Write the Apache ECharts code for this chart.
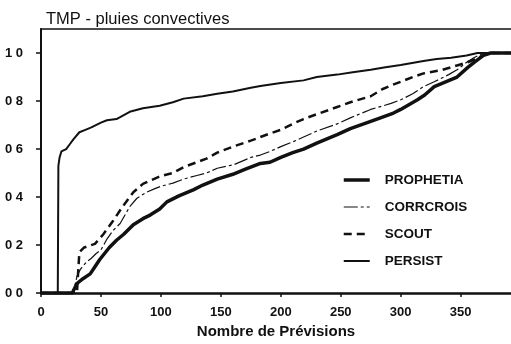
<!DOCTYPE html>
<html>
<head>
<meta charset="utf-8">
<script src="https://cdn.jsdelivr.net/npm/echarts@6/dist/echarts.min.js"></script>
<style>
  html, body { margin: 0; padding: 0; background: #fff; }
  #chart { width: 511px; height: 344px; }
</style>
</head>
<body>
<div id="chart"></div>
<script>
// Cumulative share of forecasts (y) against number of forecasts (x), one curve per method
const PROPHETIA = [[0,0],[26,0],[27,0.01],[30,0.04],[35,0.06],[41,0.08],[45,0.11],[49,0.14],[53,0.165],[57,0.19],[63,0.22],[69,0.245],[77,0.285],[85,0.31],[91,0.325],[99,0.35],[105,0.38],[115,0.405],[127,0.43],[135,0.45],[147,0.475],[160,0.495],[170,0.515],[183,0.54],[191,0.545],[200,0.565],[210,0.585],[219,0.60],[230,0.625],[247,0.66],[258,0.685],[275,0.715],[286,0.735],[294,0.75],[300,0.765],[314,0.805],[320,0.825],[328,0.86],[340,0.885],[347,0.90],[356,0.94],[361,0.96],[369,0.99],[375,1.0],[392,1.0]];
const CORRCROIS = [[0,0],[27,0],[28,0.025],[30,0.07],[33,0.10],[38,0.13],[42,0.145],[46,0.165],[50,0.18],[55,0.225],[60,0.26],[66,0.29],[74,0.36],[80,0.395],[88,0.42],[95,0.435],[100,0.445],[110,0.458],[119,0.475],[130,0.49],[138,0.50],[147,0.52],[161,0.535],[175,0.565],[183,0.575],[191,0.59],[200,0.61],[210,0.63],[219,0.65],[230,0.675],[247,0.705],[258,0.73],[275,0.765],[292,0.79],[300,0.805],[310,0.83],[319,0.86],[328,0.88],[340,0.91],[347,0.93],[356,0.965],[361,0.98],[369,1.0],[392,1.0]];
const SCOUT = [[0,0],[30,0],[31,0.09],[32,0.17],[36,0.19],[40,0.197],[45,0.205],[52,0.245],[60,0.30],[68,0.36],[77,0.42],[85,0.455],[94,0.475],[100,0.488],[110,0.50],[119,0.525],[130,0.545],[138,0.56],[147,0.585],[160,0.61],[175,0.635],[183,0.65],[191,0.665],[200,0.68],[210,0.705],[219,0.725],[230,0.745],[247,0.775],[258,0.795],[275,0.82],[285,0.85],[292,0.865],[300,0.88],[310,0.90],[319,0.915],[335,0.93],[347,0.948],[355,0.96],[361,0.972],[369,0.99],[375,1.0],[392,1.0]];
const PERSIST = [[0,0],[14,0],[14.5,0.53],[15.5,0.565],[17,0.59],[21,0.60],[24,0.62],[27,0.64],[32,0.67],[37,0.68],[42,0.69],[50,0.71],[55,0.72],[63,0.725],[74,0.755],[85,0.77],[99,0.78],[110,0.795],[119,0.81],[135,0.82],[147,0.83],[160,0.84],[175,0.855],[183,0.863],[200,0.875],[219,0.886],[230,0.90],[247,0.91],[260,0.92],[275,0.93],[286,0.94],[300,0.95],[319,0.967],[330,0.975],[342,0.98],[355,0.99],[364,1.0],[392,1.0]];

const xTicks = [0, 50, 100, 150, 200, 250, 300, 350];
const yTicks = [0, 0.2, 0.4, 0.6, 0.8, 1.0];
const yTickLabels = ['0 0', '0 2', '0 4', '0 6', '0 8', '1 0'];

const INK = '#111';
const FONT = '"Liberation Sans", Arial, sans-serif';

// stroke style per method: [width, dash]
const STYLES = {
  PROPHETIA: [3.5, 'solid'],
  CORRCROIS: [1.2, [14, 3, 3, 3]],
  SCOUT: [2.5, [8, 5]],
  PERSIST: [2, 'solid']
};

const chart = echarts.init(document.getElementById('chart'), null, { renderer: 'canvas' });

function lineSeries(name, data) {
  return {
    name: name,
    type: 'line',
    data: data,
    symbol: 'none',
    showSymbol: false,
    animation: false,
    lineStyle: { color: INK, width: STYLES[name][0], type: STYLES[name][1], cap: 'butt', join: 'round' },
    itemStyle: { color: INK }
  };
}

const legendItems = ['PROPHETIA', 'CORRCROIS', 'SCOUT', 'PERSIST'].map(function (n) {
  return { name: n, lineStyle: { color: INK, width: STYLES[n][0], type: STYLES[n][1] } };
});

chart.setOption({
  backgroundColor: '#fff',
  animation: false,
  title: {
    text: 'TMP - pluies convectives',
    left: 41,
    top: 6,
    textStyle: { fontFamily: FONT, fontSize: 16.5, fontWeight: 'normal', color: INK }
  },
  grid: { left: 41, top: 29, right: 0, bottom: 48, containLabel: false },
  legend: {
    orient: 'vertical',
    left: 342,
    top: 173,
    padding: 0,
    itemWidth: 26,
    itemHeight: 14,
    itemGap: 13,
    // keep only the line sample in each legend entry
    itemStyle: { opacity: 0, borderWidth: 0 },
    data: legendItems,
    textStyle: { fontFamily: FONT, fontSize: 13.5, fontWeight: 'bold', color: INK, padding: [0, 0, 0, 10] }
  },
  xAxis: [{
    type: 'value',
    min: 0,
    max: 392,
    interval: 50,
    name: 'Nombre de Prévisions',
    nameLocation: 'middle',
    nameGap: 15,
    nameTextStyle: { fontFamily: FONT, fontSize: 15, fontWeight: 'bold', color: INK, verticalAlign: 'top' },
    axisLine: { show: true, lineStyle: { color: INK, width: 2.5 } },
    axisTick: { show: true, length: 4, customValues: xTicks, lineStyle: { color: INK, width: 1.5 } },
    axisLabel: { customValues: xTicks, margin: 13, fontFamily: FONT, fontSize: 13, fontWeight: 'bold', color: INK },
    splitLine: { show: false }
  }, {
    type: 'value',
    position: 'top',
    min: 0,
    max: 392,
    axisLine: { show: true, onZero: false, lineStyle: { color: INK, width: 1.5 } },
    axisTick: { show: false },
    axisLabel: { show: false },
    splitLine: { show: false }
  }],
  yAxis: {
    type: 'value',
    min: 0,
    max: 1.1,
    interval: 0.2,
    axisLine: { show: true, lineStyle: { color: INK, width: 2 } },
    axisTick: { show: true, length: 5, customValues: yTicks, lineStyle: { color: INK, width: 1.5 } },
    axisLabel: {
      customValues: yTicks,
      margin: 18,
      fontFamily: FONT,
      fontSize: 13,
      fontWeight: 'bold',
      color: INK,
      formatter: function (v) {
        const i = yTicks.findIndex(function (t) { return Math.abs(t - v) < 1e-6; });
        return i >= 0 ? yTickLabels[i] : '';
      }
    },
    splitLine: { show: false }
  },
  series: [
    lineSeries('PROPHETIA', PROPHETIA),
    lineSeries('CORRCROIS', CORRCROIS),
    lineSeries('SCOUT', SCOUT),
    lineSeries('PERSIST', PERSIST)
  ]
});
</script>
</body>
</html>
